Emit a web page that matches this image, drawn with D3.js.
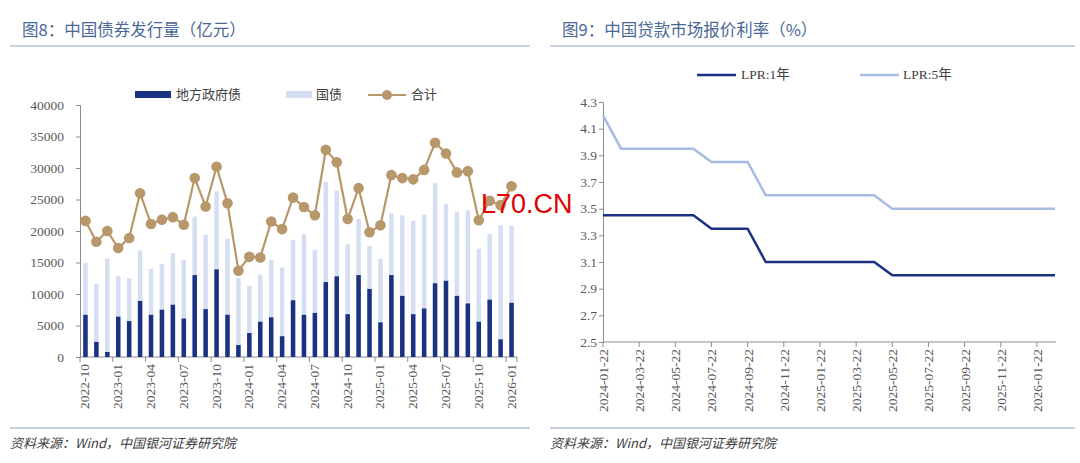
<!DOCTYPE html>
<html><head><meta charset="utf-8">
<script src="https://cdn.jsdelivr.net/npm/d3@7"></script>
<style>
body{margin:0;background:#fff;font-family:"Noto Sans CJK SC","Noto Sans",sans-serif;}
.ax text{fill:#595959;font-family:"Liberation Serif","DejaVu Serif",serif;font-size:13.5px;}
.ax path,.ax line{stroke:#8c8c8c;}
</style></head>
<body><svg id="c" width="1080" height="463"></svg>
<script>
// 图8 data (亿元)
const months = [];
for (let i = 0; i < 40; i++) {
  const y = 2022 + Math.floor((9 + i) / 12), m = (9 + i) % 12 + 1;
  months.push(y + "-" + String(m).padStart(2, "0"));
}
const localBonds = [6700,2400,800,6400,5700,8900,6700,7500,8300,6100,13000,7600,13900,6700,1900,3800,5600,6300,
  3300,9000,6700,7000,11900,12800,6800,13000,10800,5500,13000,9700,6800,7700,11700,12100,9700,8500,5600,9100,2800,8600];
const treasury = [14900,11600,15600,12800,12500,16900,14000,14800,16500,15400,22300,19400,26300,18800,12600,11300,13100,15400,
  14200,18600,19500,17000,27800,26400,17900,21900,17600,15600,22800,22500,21600,22600,27600,24300,23000,23300,17200,19500,20900,20800];
const total = [21600,18300,20000,17300,18900,26000,21100,21800,22200,21000,28400,23900,30200,24400,13700,15900,15800,21500,
  20300,25300,23800,22500,32900,30900,21900,26800,19800,20900,28900,28400,28200,29700,34000,32300,29300,29500,21700,24800,24100,27100];
const leftTicks = [0,5000,10000,15000,20000,25000,30000,35000,40000];

// 图9 data (%)
const lprDates = [];
for (let i = 0; i < 26; i++) {
  const y = 2024 + Math.floor(i / 12), m = i % 12 + 1;
  lprDates.push(y + "-" + String(m).padStart(2, "0") + "-22");
}
const lpr1y = [3.45,3.45,3.45,3.45,3.45,3.45,3.35,3.35,3.35,3.10,3.10,3.10,3.10,3.10,3.10,3.10,3.00,3.00,3.00,3.00,3.00,3.00,3.00,3.00,3.00,3.00];
const lpr5y = [4.20,3.95,3.95,3.95,3.95,3.95,3.85,3.85,3.85,3.60,3.60,3.60,3.60,3.60,3.60,3.60,3.50,3.50,3.50,3.50,3.50,3.50,3.50,3.50,3.50,3.50];
const rightTicks = [2.5,2.7,2.9,3.1,3.3,3.5,3.7,3.9,4.1,4.3];

const svg = d3.select("#c");
const titleCol = "#4a6896", gridCol = "#b4c3dc";
const DARK = "#1b3282", LIGHT = "#d5dff1", TAN = "#b8976a";

// headers and footers
[[10, 530, "图8：中国债券发行量（亿元）"], [550, 1075, "图9：中国贷款市场报价利率（%）"]].forEach(([x0, x1, t]) => {
  svg.append("text").attr("x", x0 + 12).attr("y", 36).text(t)
    .attr("fill", titleCol).style("font-size", "16.5px");
  svg.append("line").attr("x1", x0).attr("x2", x1).attr("y1", 46).attr("y2", 46)
    .attr("stroke", gridCol).attr("stroke-width", 1.5);
  svg.append("line").attr("x1", x0).attr("x2", x1).attr("y1", 428).attr("y2", 428)
    .attr("stroke", gridCol).attr("stroke-width", 1.5);
  svg.append("text").attr("x", x0).attr("y", 448).text("资料来源：Wind，中国银河证券研究院")
    .attr("fill", "#404040").style("font-size", "13px").style("font-style", "italic");
});

// ---- left chart ----
const x = d3.scaleBand().domain(months).range([80, 517]);
const y = d3.scaleLinear().domain([0, 40000]).range([357, 105]);

svg.append("g").attr("class", "ax").attr("transform", "translate(80,0)")
  .call(d3.axisLeft(y).tickValues(leftTicks).tickSize(4).tickFormat(d3.format("d")))
  .call(g => g.selectAll("text").attr("x", -16));

const xa = svg.append("g").attr("class", "ax");
xa.append("line").attr("x1", 80).attr("x2", 517).attr("y1", 357).attr("y2", 357).attr("stroke", "#8c8c8c");
months.forEach((m, i) => {
  if (i % 3 !== 0) return;
  xa.append("line").attr("x1", x(m)).attr("x2", x(m)).attr("y1", 357).attr("y2", 362).attr("stroke", "#8c8c8c");
  xa.append("text").text(m).attr("transform", `translate(${x(m) + x.bandwidth() / 2 + 4},364) rotate(-90)`)
    .attr("text-anchor", "end");
});
xa.append("line").attr("x1", 517).attr("x2", 517).attr("y1", 357).attr("y2", 362).attr("stroke", "#8c8c8c");

const bw = 4.5;
svg.selectAll(".tb").data(treasury).enter().append("rect")
  .attr("x", (d, i) => x(months[i]) + x.bandwidth() / 2 - bw / 2).attr("width", bw)
  .attr("y", d => y(d)).attr("height", d => y(0) - y(d)).attr("fill", LIGHT);
svg.selectAll(".lb").data(localBonds).enter().append("rect")
  .attr("x", (d, i) => x(months[i]) + x.bandwidth() / 2 - bw / 2).attr("width", bw)
  .attr("y", d => y(d)).attr("height", d => y(0) - y(d)).attr("fill", DARK);

const cx = (d, i) => x(months[i]) + x.bandwidth() / 2;
svg.append("path").datum(total)
  .attr("d", d3.line().x(cx).y(d => y(d)))
  .attr("fill", "none").attr("stroke", TAN).attr("stroke-width", 2.2);
svg.selectAll(".dot").data(total).enter().append("circle")
  .attr("cx", cx).attr("cy", d => y(d)).attr("r", 5.3).attr("fill", TAN);

// left legend
const lg = svg.append("g").style("font-size", "13px").attr("fill", "#404040");
lg.append("rect").attr("x", 135).attr("y", 91).attr("width", 36).attr("height", 7).attr("fill", DARK);
lg.append("text").attr("x", 176).attr("y", 99).text("地方政府债");
lg.append("rect").attr("x", 286).attr("y", 91).attr("width", 26).attr("height", 7).attr("fill", LIGHT);
lg.append("text").attr("x", 316).attr("y", 99).text("国债");
lg.append("line").attr("x1", 368).attr("x2", 406).attr("y1", 95).attr("y2", 95).attr("stroke", TAN).attr("stroke-width", 2.2);
lg.append("circle").attr("cx", 387).attr("cy", 95).attr("r", 5).attr("fill", TAN);
lg.append("text").attr("x", 411).attr("y", 99).text("合计");

// ---- right chart ----
const x2 = d3.scalePoint().domain(lprDates).range([603, 1055]);
const y2 = d3.scaleLinear().domain([2.5, 4.3]).range([342, 102]);

svg.append("g").attr("class", "ax").attr("transform", "translate(603,0)")
  .call(d3.axisLeft(y2).tickValues(rightTicks).tickSize(4).tickFormat(d3.format(".1f")))
  .call(g => g.selectAll("text").attr("x", -6));
const xb = svg.append("g").attr("class", "ax");
xb.append("line").attr("x1", 603).attr("x2", 1056).attr("y1", 342).attr("y2", 342).attr("stroke", "#8c8c8c");
lprDates.forEach((d, i) => {
  if (i % 2 !== 0) return;
  xb.append("line").attr("x1", x2(d)).attr("x2", x2(d)).attr("y1", 342).attr("y2", 347).attr("stroke", "#8c8c8c");
  xb.append("text").text(d).attr("transform", `translate(${x2(d) + 5},349) rotate(-90)`).attr("text-anchor", "end");
});

const line2 = d3.line().x((d, i) => x2(lprDates[i])).y(d => y2(d));
svg.append("path").datum(lpr5y).attr("d", line2).attr("fill", "none").attr("stroke", "#a8bbe3").attr("stroke-width", 2.5);
svg.append("path").datum(lpr1y).attr("d", line2).attr("fill", "none").attr("stroke", DARK).attr("stroke-width", 2.5);

const rg = svg.append("g").style("font-size", "13.5px").attr("fill", "#404040")
  .style("font-family", "'Liberation Serif','Noto Sans CJK SC',serif");
rg.append("line").attr("x1", 697).attr("x2", 736).attr("y1", 75).attr("y2", 75).attr("stroke", DARK).attr("stroke-width", 2.5);
rg.append("text").attr("x", 741).attr("y", 79).text("LPR:1年");
rg.append("line").attr("x1", 860).attr("x2", 899).attr("y1", 75).attr("y2", 75).attr("stroke", "#a8bbe3").attr("stroke-width", 2.5);
rg.append("text").attr("x", 903).attr("y", 79).text("LPR:5年");

// watermark
svg.append("text").attr("x", 481).attr("y", 213).text("L70.CN").attr("fill", "#e00000")
  .style("font-family", "'Liberation Sans',sans-serif").style("font-size", "27px");
</script></body></html>
